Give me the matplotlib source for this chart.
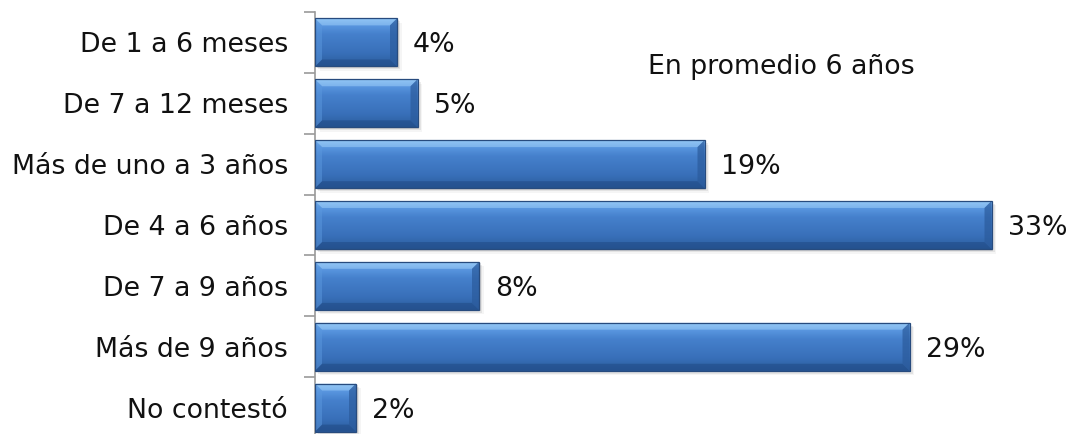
import numpy as np
import matplotlib.pyplot as plt
from matplotlib.patches import Polygon, Rectangle
from matplotlib.colors import LinearSegmentedColormap

categories = ['De 1 a 6 meses', 'De 7 a 12 meses', 'Más de uno a 3 años',
              'De 4 a 6 años', 'De 7 a 9 años', 'Más de 9 años', 'No contestó']
values = [4, 5, 19, 33, 8, 29, 2]
note = 'En promedio 6 años'

W, H = 1072, 434
fig = plt.figure(figsize=(W / 100, H / 100), dpi=100)
fig.patch.set_facecolor('white')

# axes placed in pixel terms: value axis starts at x=315, categories 60.8 px apart
ax_left, ax_right = 315, 1053
ax_top, ax_bottom = 12, 438
ax = fig.add_axes([ax_left / W, (H - ax_bottom) / H,
                   (ax_right - ax_left) / W, (ax_bottom - ax_top) / H])
ax.set_xlim(0, 36)
ax.set_ylim(len(categories) - 0.5, -0.5)
ax.patch.set_alpha(0)

px_x = (ax_right - ax_left) / 36.0          # pixels per percent
px_y = (ax_bottom - ax_top) / len(categories)  # pixels per category

face = LinearSegmentedColormap.from_list(
    'face', [(0.0, '#8ac2f4'), (0.15, '#5a97e0'), (0.35, '#4580cc'),
             (0.75, '#386fb8'), (1.0, '#2c5c9c')])
grad = np.linspace(0, 1, 64).reshape(-1, 1)

bar_h = 0.79
bw = 7 / px_x   # bevel width in data units
bh = 7 / px_y
fs = 19.3

for i, v in enumerate(values):
    y0, y1 = i - bar_h / 2, i + bar_h / 2
    # soft shadow
    for k, a in enumerate([0.10, 0.07, 0.04]):
        d = (k + 1) * 1.5
        ax.add_patch(Rectangle((d / px_x, y0 + d / px_y), v, bar_h,
                               facecolor='#000000', alpha=a, lw=0, zorder=1))
    im = ax.imshow(grad, cmap=face, aspect='auto', extent=(0, v, y1, y0),
                   zorder=2, interpolation='bicubic')
    rect = Rectangle((0, y0), v, bar_h, transform=ax.transData)
    im.set_clip_path(rect)
    # bevel edges
    bevels = [
        ([(0, y0), (v, y0), (v - bw, y0 + bh), (bw, y0 + bh)], '#9ccdf8', 0.55),
        ([(0, y1), (v, y1), (v - bw, y1 - bh), (bw, y1 - bh)], '#1f4a85', 0.55),
        ([(v, y0), (v, y1), (v - bw, y1 - bh), (v - bw, y0 + bh)], '#2b5b9c', 0.7),
        ([(0, y0), (0, y1), (bw, y1 - bh), (bw, y0 + bh)], '#5b98de', 0.5),
    ]
    for pts, col, a in bevels:
        ax.add_patch(Polygon(pts, closed=True, facecolor=col, alpha=a,
                             lw=0, zorder=3))
    ax.add_patch(Rectangle((0, y0), v, bar_h, facecolor='none',
                           edgecolor='#274b7e', lw=0.9, zorder=4))
    ax.text(v + 16 / px_x, i, f'{v}%', va='center_baseline', ha='left',
            fontsize=fs, color='#111111')

ax.set_yticks(np.arange(-0.5, len(categories), 1))
ax.set_yticklabels([])
ax.tick_params(axis='y', length=8, color='#9a9a9a', width=1.2)
for i, c in enumerate(categories):
    ax.text(-27 / px_x, i, c, ha='right', va='center_baseline', fontsize=fs,
            color='#111111')

ax.set_xticks([])
for s in ['top', 'right', 'bottom']:
    ax.spines[s].set_visible(False)
ax.spines['left'].set_color('#9a9a9a')
ax.spines['left'].set_linewidth(1.2)

fig.text(648 / W, 1 - 64 / H, note, ha='left', va='center_baseline',
         fontsize=fs, color='#111111')

fig.savefig('out.png', dpi=100)
